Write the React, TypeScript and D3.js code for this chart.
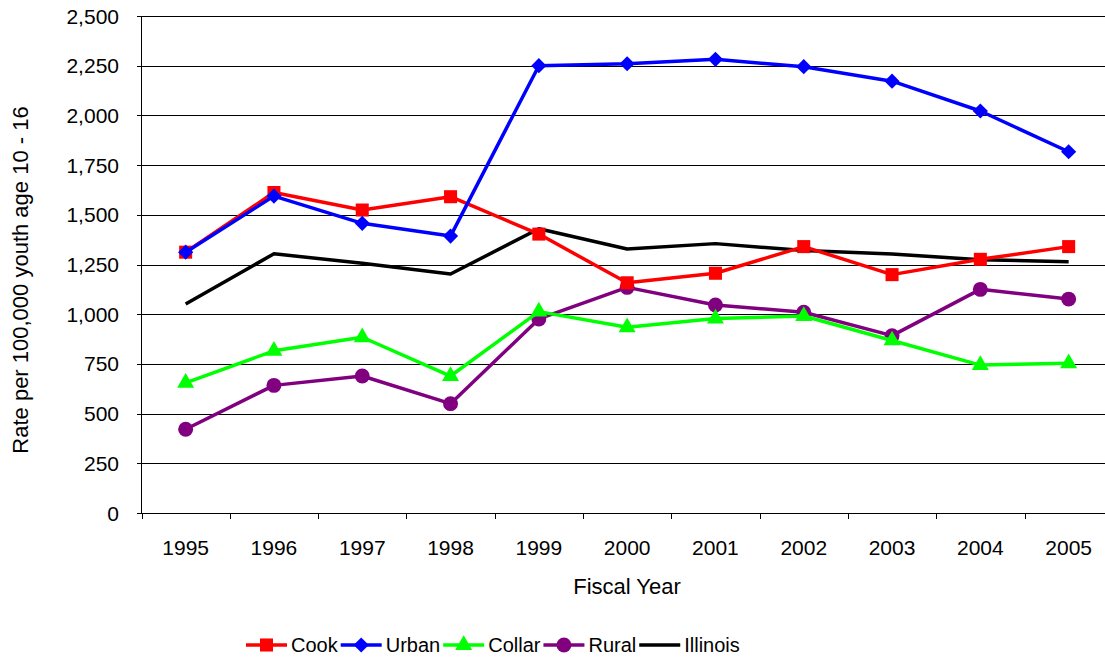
import { useEffect, useRef } from 'react';
import { select, scaleBand, scaleLinear, line, symbol, symbolSquare, symbolTriangle, symbolCircle, format } from 'd3';

const years = ['1995', '1996', '1997', '1998', '1999', '2000', '2001', '2002', '2003', '2004', '2005'];
const yTicks = [0, 250, 500, 750, 1000, 1250, 1500, 1750, 2000, 2250, 2500];

const cook = [1312, 1612, 1524, 1591, 1403, 1158, 1206, 1340, 1199, 1276, 1340];
const urban = [1312, 1594, 1457, 1393, 2250, 2260, 2282, 2245, 2172, 2022, 1817];
const collar = [655, 816, 884, 689, 1013, 934, 978, 991, 868, 744, 753];
const rural = [421, 642, 689, 550, 976, 1135, 1046, 1010, 892, 1125, 1076];
const illinois = [1051, 1304, 1256, 1202, 1430, 1328, 1355, 1320, 1303, 1274, 1264];

type Series = { name: string; values: number[]; color: string; marker: any; size: number; rotate: number };

const series: Series[] = [
  { name: 'Cook', values: cook, color: '#ff0000', marker: symbolSquare, size: 170, rotate: 0 },
  { name: 'Urban', values: urban, color: '#0000ff', marker: symbolSquare, size: 115, rotate: 45 },
  { name: 'Collar', values: collar, color: '#00ff00', marker: symbolTriangle, size: 125, rotate: 0 },
  { name: 'Rural', values: rural, color: '#800080', marker: symbolCircle, size: 175, rotate: 0 },
  { name: 'Illinois', values: illinois, color: '#000000', marker: null, size: 0, rotate: 0 },
];

export default function App() {
  const svgRef = useRef<SVGSVGElement | null>(null);

  useEffect(() => {
    if (!svgRef.current) return;
    const svg = select(svgRef.current);
    svg.selectAll('*').remove();

    const font = '"Liberation Sans", Arial, sans-serif';
    const left = 141.5;
    const top = 16;
    const bottom = 513;
    const bandW = 88.3;

    const x = scaleBand<string>().domain(years).range([left, left + bandW * years.length]);
    const y = scaleLinear().domain([0, 2500]).range([bottom, top]);
    const cx = (yr: string) => (x(yr) || 0) + x.bandwidth() / 2;
    const fmt = format(',');

    // gridlines
    svg.append('g')
      .selectAll('line')
      .data(yTicks.filter(t => t > 0))
      .enter()
      .append('line')
      .attr('x1', left)
      .attr('x2', 1105)
      .attr('y1', d => Math.round(y(d)) + 0.5)
      .attr('y2', d => Math.round(y(d)) + 0.5)
      .attr('stroke', '#000')
      .attr('stroke-width', 1)
      .attr('shape-rendering', 'crispEdges');

    // y axis
    const yAxis = svg.append('g');
    yAxis.append('line')
      .attr('x1', left).attr('x2', left)
      .attr('y1', top).attr('y2', bottom)
      .attr('stroke', '#000').attr('shape-rendering', 'crispEdges');
    yAxis.selectAll('line.tick')
      .data(yTicks)
      .enter()
      .append('line')
      .attr('class', 'tick')
      .attr('x1', left - 5).attr('x2', left)
      .attr('y1', d => Math.round(y(d)) + 0.5)
      .attr('y2', d => Math.round(y(d)) + 0.5)
      .attr('stroke', '#000').attr('shape-rendering', 'crispEdges');
    yAxis.selectAll('text')
      .data(yTicks)
      .enter()
      .append('text')
      .attr('x', 119)
      .attr('y', d => y(d))
      .attr('dy', '0.36em')
      .attr('text-anchor', 'end')
      .style('font-family', font)
      .style('font-size', '21px')
      .text(d => fmt(d));

    // x axis
    const xAxis = svg.append('g');
    xAxis.append('line')
      .attr('x1', left).attr('x2', 1105)
      .attr('y1', bottom + 0.5).attr('y2', bottom + 0.5)
      .attr('stroke', '#000').attr('shape-rendering', 'crispEdges');
    xAxis.selectAll('line.tick')
      .data(years)
      .enter()
      .append('line')
      .attr('class', 'tick')
      .attr('x1', d => Math.round(x(d) || 0) + 0.5)
      .attr('x2', d => Math.round(x(d) || 0) + 0.5)
      .attr('y1', bottom).attr('y2', bottom + 6)
      .attr('stroke', '#000').attr('shape-rendering', 'crispEdges');
    xAxis.selectAll('text')
      .data(years)
      .enter()
      .append('text')
      .attr('x', d => cx(d))
      .attr('y', 555)
      .attr('text-anchor', 'middle')
      .style('font-family', font)
      .style('font-size', '21px')
      .text(d => d);

    svg.append('text')
      .attr('x', 627)
      .attr('y', 594)
      .attr('text-anchor', 'middle')
      .style('font-family', font)
      .style('font-size', '22px')
      .text('Fiscal Year');

    svg.append('text')
      .attr('transform', `translate(28,280) rotate(-90)`)
      .attr('text-anchor', 'middle')
      .style('font-family', font)
      .style('font-size', '22px')
      .text('Rate per 100,000 youth age 10 - 16');

    // lines and markers
    const lineGen = line<number>()
      .x((_, i) => cx(years[i]))
      .y(d => y(d));

    const drawOrder = [series[4], series[3], series[2], series[0], series[1]];
    drawOrder.forEach(s => {
      const g = svg.append('g');
      g.append('path')
        .attr('d', lineGen(s.values) || '')
        .attr('fill', 'none')
        .attr('stroke', s.color)
        .attr('stroke-width', 3.5)
        .attr('stroke-linejoin', 'round');
      if (s.marker) {
        g.selectAll('path.m')
          .data(s.values)
          .enter()
          .append('path')
          .attr('class', 'm')
          .attr('d', symbol().type(s.marker).size(s.size)() || '')
          .attr('transform', (d, i) => `translate(${cx(years[i])},${y(d)}) rotate(${s.rotate})`)
          .attr('fill', s.color);
      }
    });

    // legend
    const legend = svg.append('g');
    let lx = 246;
    const ly = 645;
    series.forEach(s => {
      const item = legend.append('g');
      item.append('line')
        .attr('x1', lx).attr('x2', lx + 41)
        .attr('y1', ly).attr('y2', ly)
        .attr('stroke', s.color).attr('stroke-width', 3.5);
      if (s.marker) {
        item.append('path')
          .attr('d', symbol().type(s.marker).size(s.size)() || '')
          .attr('transform', `translate(${lx + 20.5},${ly}) rotate(${s.rotate})`)
          .attr('fill', s.color);
      }
      const t = item.append('text')
        .attr('x', lx + 45)
        .attr('y', ly)
        .attr('dy', '0.36em')
        .style('font-family', font)
        .style('font-size', '20px')
        .text(s.name);
      const w = (t.node() as SVGTextElement).getComputedTextLength();
      lx = lx + 45 + w + 3;
    });
  }, []);

  return (
    <svg
      ref={svgRef}
      width={1105}
      height={658}
      style={{ position: 'absolute', left: 0, top: 0, background: '#fff' }}
    />
  );
}
